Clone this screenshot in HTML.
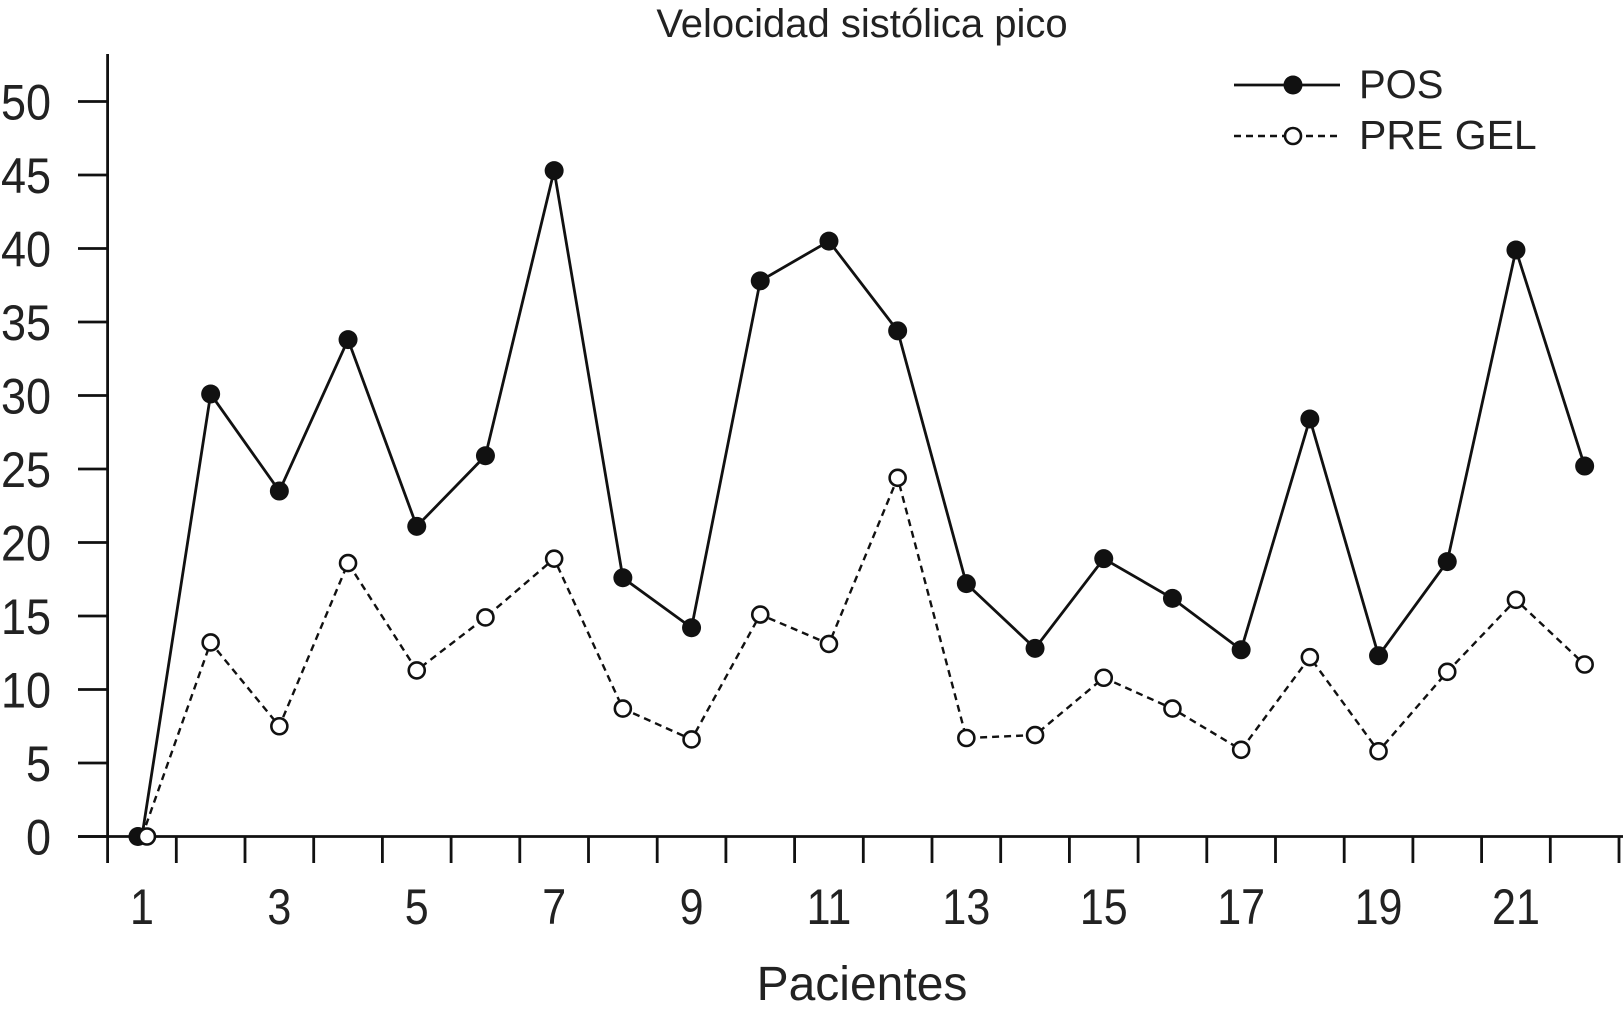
<!DOCTYPE html>
<html><head><meta charset="utf-8"><style>
html,body{margin:0;padding:0;background:#fff;}
svg{display:block;font-family:"Liberation Sans",sans-serif;}
</style></head><body>
<svg id="chart" width="1623" height="1015" viewBox="0 0 1623 1015">
<text x="862" y="37" font-size="40" text-anchor="middle" fill="#222">Velocidad sistólica pico</text>
<text x="862" y="1000" font-size="48" text-anchor="middle" fill="#222">Pacientes</text>
<g id="axes"></g>
<g id="series"></g>
<g>
<line x1="1234" y1="85" x2="1340" y2="85" stroke="#111" stroke-width="2.8"/>
<circle cx="1293" cy="85" r="9.5" fill="#111"/>
<text x="1359" y="98" font-size="40" fill="#222">POS</text>
<line x1="1234" y1="136" x2="1340" y2="136" stroke="#111" stroke-width="2.4" stroke-dasharray="7,5"/>
<circle cx="1293" cy="136" r="8" fill="#fff" stroke="#111" stroke-width="2.6"/>
<text x="1359" y="149" font-size="41" fill="#222">PRE GEL</text>
</g>
</svg>
<script>
const categories = [1,2,3,4,5,6,7,8,9,10,11,12,13,14,15,16,17,18,19,20,21,22];
const posValues = [0,30.1,23.5,33.8,21.1,25.9,45.3,17.6,14.2,37.8,40.5,34.4,17.2,12.8,18.9,16.2,12.7,28.4,12.3,18.7,39.9,25.2];
const preValues = [0,13.2,7.5,18.6,11.3,14.9,18.9,8.7,6.6,15.1,13.1,24.4,6.7,6.9,10.8,8.7,5.9,12.2,5.8,11.2,16.1,11.7];
const yTicks = [0,5,10,15,20,25,30,35,40,45,50];
const xTickLabels = [1,3,5,7,9,11,13,15,17,19,21];

const NS = "http://www.w3.org/2000/svg";
const axisX0 = 107.6, step = 68.7;
function xScale(c){ return axisX0 + step*(c - 0.5); }
function yScale(v){ return 836.5 - v*14.7; }
function mk(tag, attrs, parent){ const e=document.createElementNS(NS,tag); for(const k in attrs) e.setAttribute(k,attrs[k]); parent.appendChild(e); return e; }

const axes = document.getElementById('axes');
let e = mk('line',{x1:107.6,y1:54,x2:107.6,y2:863,stroke:'#111','stroke-width':2.8},axes);


e = mk('line',{x1:78,y1:836.5,x2:1623,y2:836.5,stroke:'#111','stroke-width':2.8},axes);


yTicks.forEach(v=>{
  const y=yScale(v);
  let t=mk('line',{x1:78,y1:y,x2:107.6,y2:y,stroke:'#111','stroke-width':2.8},axes);
  
  
  let l=mk('text',{transform:'translate(51,'+(y+18)+') scale(0.9,1)','font-size':50,'text-anchor':'end',fill:'#222'},axes);
  l.textContent=v;
  
  
});
for(let k=1;k<=categories.length;k++){
  const x=axisX0+step*k;
  let t=mk('line',{x1:x,y1:836.5,x2:x,y2:863,stroke:'#111','stroke-width':2.8},axes);
  
  
}
xTickLabels.forEach(c=>{
  let l=mk('text',{transform:'translate('+xScale(c)+',924) scale(0.86,1)','font-size':50,'text-anchor':'middle',fill:'#222'},axes);
  l.textContent=c;
  
  
});

const series = document.getElementById('series');
function pts(vals){ return vals.map((v,i)=>xScale(categories[i])+','+yScale(v)).join(' '); }
let pl = mk('polyline',{points:pts(preValues),fill:'none',stroke:'#111','stroke-width':2.4,'stroke-dasharray':'7,5'},series);


pl = mk('polyline',{points:pts(posValues),fill:'none',stroke:'#111','stroke-width':2.8},series);


posValues.forEach((v,i)=>{
  let c=mk('circle',{cx:xScale(categories[i])-(i===0?4:0),cy:yScale(v),r:9.5,fill:'#111'},series);
  
  
});
preValues.forEach((v,i)=>{
  let c=mk('circle',{cx:xScale(categories[i])+(i===0?5:0),cy:yScale(v),r:8,fill:'#fff',stroke:'#111','stroke-width':2.6},series);
  
  
});
</script>
</body></html>
